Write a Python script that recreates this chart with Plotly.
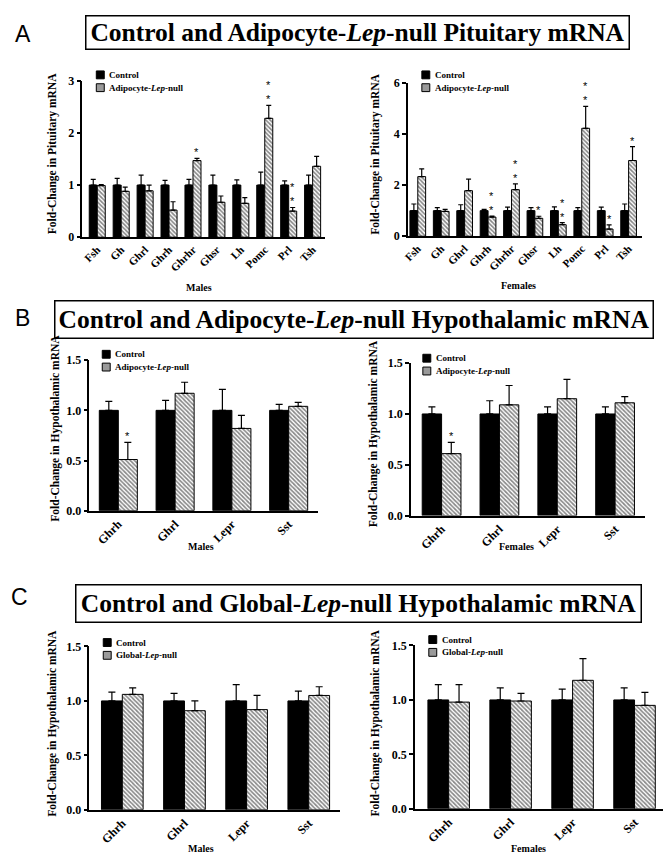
import plotly.graph_objects as go

# ---------------- data ----------------
pit_genes = ["Fsh", "Gh", "Ghrl", "Ghrh", "Ghrhr", "Ghsr", "Lh", "Pomc", "Prl", "Tsh"]
hyp_genes = ["Ghrh", "Ghrl", "Lepr", "Sst"]

# Panel A, males (pituitary)
a_m_ctrl = [1.0] * 10
a_m_ctrl_err = [0.11, 0.13, 0.19, 0.09, 0.11, 0.19, 0.10, 0.25, 0.08, 0.19]
a_m_ko = [0.99, 0.88, 0.89, 0.52, 1.47, 0.67, 0.65, 2.28, 0.50, 1.36]
a_m_ko_err = [0.02, 0.08, 0.11, 0.16, 0.04, 0.12, 0.11, 0.25, 0.07, 0.19]
a_m_sig = ["", "", "", "", "*", "", "", "**", "**", ""]

# Panel A, females (pituitary)
a_f_ctrl = [1.0] * 10
a_f_ctrl_err = [0.26, 0.12, 0.23, 0.05, 0.14, 0.12, 0.15, 0.12, 0.14, 0.26]
a_f_ko = [2.33, 0.97, 1.78, 0.75, 1.82, 0.70, 0.45, 4.22, 0.28, 2.96]
a_f_ko_err = [0.30, 0.08, 0.45, 0.04, 0.23, 0.08, 0.08, 0.86, 0.16, 0.54]
a_f_sig = ["", "", "", "**", "**", "*", "**", "**", "*", "*"]

# Panel B, males (hypothalamus, adipocyte-Lep-null)
b_m_ctrl = [1.0] * 4
b_m_ctrl_err = [0.09, 0.10, 0.21, 0.06]
b_m_ko = [0.51, 1.17, 0.82, 1.04]
b_m_ko_err = [0.17, 0.11, 0.13, 0.04]
b_m_sig = ["*", "", "", ""]

# Panel B, females
b_f_ctrl = [1.0] * 4
b_f_ctrl_err = [0.07, 0.13, 0.07, 0.07]
b_f_ko = [0.61, 1.09, 1.15, 1.11]
b_f_ko_err = [0.11, 0.19, 0.19, 0.06]
b_f_sig = ["*", "", "", ""]

# Panel C, males (hypothalamus, global-Lep-null)
c_m_ctrl = [1.0] * 4
c_m_ctrl_err = [0.08, 0.07, 0.15, 0.09]
c_m_ko = [1.06, 0.91, 0.92, 1.05]
c_m_ko_err = [0.06, 0.09, 0.13, 0.08]

# Panel C, females
c_f_ctrl = [1.0] * 4
c_f_ctrl_err = [0.14, 0.11, 0.10, 0.11]
c_f_ko = [0.98, 0.99, 1.18, 0.95]
c_f_ko_err = [0.16, 0.07, 0.20, 0.12]

titles = [
    "Control and Adipocyte-<i>Lep</i>-null Pituitary mRNA",
    "Control and Adipocyte-<i>Lep</i>-null Hypothalamic mRNA",
    "Control and Global-<i>Lep</i>-null Hypothalamic mRNA",
]
panel_letters = ["A", "B", "C"]
ko_names = ["Adipocyte-<i>Lep</i>-null", "Adipocyte-<i>Lep</i>-null", "Global-<i>Lep</i>-null"]
ytitles = ["Fold-Change in Pituitary mRNA", "Fold-Change in Hypothalamic mRNA",
           "Fold-Change in Hypothalamic mRNA"]

# ---------------- layout helpers ----------------
W, H = 667, 864
SERIF = "Liberation Serif"
SANS = "Liberation Sans"
BW = 0.335  # single bar width in category units


def px_x(p):
    return p / W


def px_y(p):
    return 1 - p / H


panels = [
    dict(x0=78, x1=322, yt=75, yb=234, xr=[-0.62, 9.5], yr=[0, 3], dt=1, fmt="d",
         genes=pit_genes, ctrl=a_m_ctrl, ce=a_m_ctrl_err, ko=a_m_ko, ke=a_m_ko_err, sig=a_m_sig,
         row=0, sex="Males", sx=195, sy=285, ytx=48, yty=149, lx=92, ly=65, tf=11, cap=2.5),
    dict(x0=406, x1=642, yt=77, yb=233, xr=[-0.42, 9.58], yr=[0, 6], dt=2, fmt="d",
         genes=pit_genes, ctrl=a_f_ctrl, ce=a_f_ctrl_err, ko=a_f_ko, ke=a_f_ko_err, sig=a_f_sig,
         row=0, sex="Females", sx=517, sy=283, ytx=373, yty=150, lx=420, ly=65, tf=11, cap=2.5),
    dict(x0=85, x1=315, yt=359, yb=512, xr=[-0.51, 3.51], yr=[0, 1.5], dt=0.5, fmt=".1f",
         genes=hyp_genes, ctrl=b_m_ctrl, ce=b_m_ctrl_err, ko=b_m_ko, ke=b_m_ko_err, sig=b_m_sig,
         row=1, sex="Males", sx=197, sy=548, ytx=50, yty=428, lx=98, ly=349, tf=12, cap=3.5),
    dict(x0=409, x1=645, yt=362, yb=517, xr=[-0.53, 3.52], yr=[0, 1.5], dt=0.5, fmt=".1f",
         genes=hyp_genes, ctrl=b_f_ctrl, ce=b_f_ctrl_err, ko=b_f_ko, ke=b_f_ko_err, sig=b_f_sig,
         row=1, sex="Females", sx=515, sy=548, ytx=372, yty=434, lx=421, ly=353, tf=12, cap=3.5),
    dict(x0=85, x1=338, yt=650, yb=816, xr=[-0.53, 3.51], yr=[0, 1.5], dt=0.5, fmt=".1f",
         genes=hyp_genes, ctrl=c_m_ctrl, ce=c_m_ctrl_err, ko=c_m_ko, ke=c_m_ko_err, sig=None,
         row=2, sex="Males", sx=197, sy=855, ytx=48, yty=728, lx=99, ly=642, tf=12, cap=3.5),
    dict(x0=413, x1=663, yt=649, yb=815, xr=[-0.545, 3.46], yr=[0, 1.5], dt=0.5, fmt=".1f",
         genes=hyp_genes, ctrl=c_f_ctrl, ce=c_f_ctrl_err, ko=c_f_ko, ke=c_f_ko_err, sig=None,
         row=2, sex="Females", sx=527, sy=855, ytx=373, yty=728, lx=427, ly=639, tf=12, cap=3.5),
]

fig = go.Figure()
annotations = []
shapes = []
layout_upd = {}

for i, p in enumerate(panels):
    n = i + 1
    xa = "x" if n == 1 else f"x{n}"
    ya = "y" if n == 1 else f"y{n}"
    xk = "xaxis" if n == 1 else f"xaxis{n}"
    yk = "yaxis" if n == 1 else f"yaxis{n}"
    idx = list(range(len(p["genes"])))
    fig.add_trace(go.Bar(
        x=idx, y=p["ctrl"], width=BW, offset=-BW, xaxis=xa, yaxis=ya,
        name="Control", showlegend=False,
        marker=dict(color="black", line=dict(color="black", width=1)),
        error_y=dict(type="data", symmetric=False, array=p["ce"], arrayminus=[0] * len(idx),
                     color="black", thickness=1.2, width=p["cap"]),
    ))
    fig.add_trace(go.Bar(
        x=idx, y=p["ko"], width=BW, offset=0, xaxis=xa, yaxis=ya,
        name=ko_names[p["row"]], showlegend=False,
        marker=dict(color="white", line=dict(color="black", width=1),
                    pattern=dict(shape="\\", size=3, solidity=0.55, fgcolor="#111", bgcolor="white",
                                 fillmode="overlay")),
        error_y=dict(type="data", symmetric=False, array=p["ke"], arrayminus=[0] * len(idx),
                     color="black", thickness=1.2, width=p["cap"]),
    ))
    layout_upd[xk] = dict(
        domain=[px_x(p["x0"]), px_x(p["x1"])], anchor=ya, range=p["xr"],
        tickmode="array", tickvals=idx, ticktext=p["genes"], tickangle=-45,
        showline=True, linecolor="black", linewidth=1.5, ticks="", showgrid=False, zeroline=False,
        tickfont=dict(family=SERIF, size=p["tf"], color="black", weight="bold"),
    )
    layout_upd[yk] = dict(
        domain=[px_y(p["yb"]), px_y(p["yt"])], anchor=xa, range=p["yr"], dtick=p["dt"],
        tickformat=p["fmt"], showline=True, linecolor="black", linewidth=1.5,
        ticks="outside", ticklen=4, tickwidth=1.5, tickcolor="black", showgrid=False, zeroline=False,
        tickfont=dict(family=SERIF, size=12, color="black", weight="bold"),
    )
    # manual legend: key squares + labels
    lx, ly = p["lx"], p["ly"]
    for r, (lab, fill) in enumerate([("Control", "black"), (ko_names[p["row"]], "#9a9a9a")]):
        top = ly + 13 * r
        shapes.append(dict(type="rect", xref="paper", yref="paper",
                           x0=px_x(lx), x1=px_x(lx + 8), y0=px_y(top + 8), y1=px_y(top),
                           fillcolor=fill, line=dict(color="black", width=1)))
        annotations.append(dict(
            text=lab, x=px_x(lx + 11), y=px_y(top + 4), xref="paper", yref="paper",
            showarrow=False, xanchor="left", yanchor="middle",
            font=dict(family=SERIF, size=9, color="black", weight="bold"),
        ))
    # y-axis title
    annotations.append(dict(
        text=ytitles[p["row"]], textangle=-90, x=px_x(p["ytx"]), y=px_y(p["yty"]),
        xref="paper", yref="paper", showarrow=False, xanchor="center", yanchor="middle",
        font=dict(family=SERIF, size=11.5, color="black", weight="bold"),
    ))
    # sex label
    annotations.append(dict(
        text=p["sex"], x=px_x(p["sx"]), y=px_y(p["sy"]), xref="paper", yref="paper",
        showarrow=False, xanchor="center", yanchor="middle",
        font=dict(family=SERIF, size=10, color="black", weight="bold"),
    ))
    # significance marks
    if p["sig"]:
        for j, s in enumerate(p["sig"]):
            if s:
                annotations.append(dict(
                    text="<br>".join(list(s)), x=j + BW / 2, y=p["ko"][j] + p["ke"][j],
                    xref=xa, yref=ya, showarrow=False, xanchor="center", yanchor="bottom",
                    yshift=-2, font=dict(family=SANS, size=11, color="black"),
                ))

# panel titles and letters
title_boxes = [(83, 628, 8, 43), (52, 652, 298, 337), (73, 640, 587, 626)]
letter_pos = [(18, 27), (18, 316), (15, 600)]
for k in range(3):
    x0, x1, y0, y1 = title_boxes[k]
    annotations.append(dict(
        text=titles[k], x=px_x((x0 + x1) / 2), y=px_y((y0 + y1) / 2), xref="paper", yref="paper",
        showarrow=False, xanchor="center", yanchor="middle",
        width=x1 - x0 - 3, height=y1 - y0 - 3, borderpad=0, bordercolor="black", borderwidth=1.5,
        font=dict(family=SERIF, size=25.5, color="black", weight="bold"),
    ))
    annotations.append(dict(
        text=panel_letters[k], x=px_x(letter_pos[k][0]), y=px_y(letter_pos[k][1]),
        xref="paper", yref="paper", showarrow=False, xanchor="center", yanchor="middle",
        font=dict(family=SANS, size=23, color="black"),
    ))

fig.update_layout(
    width=W, height=H, margin=dict(l=0, r=0, t=0, b=0),
    paper_bgcolor="white", plot_bgcolor="white",
    barmode="overlay", annotations=annotations, shapes=shapes, **layout_upd,
)

fig.write_html("out.html", config={"displayModeBar": False},
               post_script="document.body.style.margin='0';")
